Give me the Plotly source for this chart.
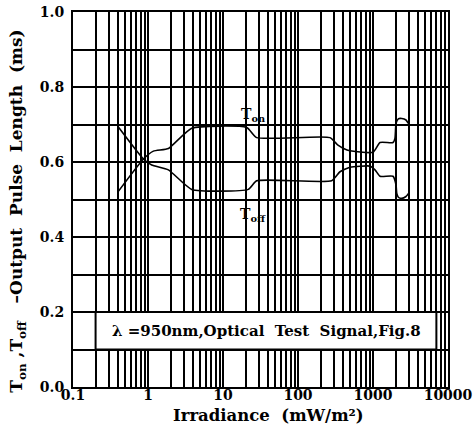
import plotly.graph_objects as go

# Data
ton_x = [0.40, 0.87, 1.18, 1.87, 3.83, 20.7, 28.1, 267, 341, 450, 1000, 1240, 1850, 1963, 2027, 2175, 2414, 2754, 2958]
ton_y = [0.521, 0.608, 0.629, 0.636, 0.690, 0.692, 0.665, 0.665, 0.645, 0.632, 0.626, 0.652, 0.652, 0.663, 0.703, 0.715, 0.716, 0.712, 0.703]

toff_x = [0.40, 0.87, 1.12, 1.87, 3.83, 21.7, 28.1, 281, 363, 494, 912, 1064, 1240, 1848, 2027, 2075, 2175, 2414, 2754, 3050]
toff_y = [0.694, 0.608, 0.592, 0.579, 0.527, 0.527, 0.550, 0.550, 0.574, 0.586, 0.589, 0.579, 0.562, 0.562, 0.539, 0.516, 0.506, 0.503, 0.508, 0.519]

x_ticks = [0.1, 1, 10, 100, 1000, 10000]
x_tick_labels = ["0.1", "1", "10", "100", "1000", "10000"]
y_ticks = [0.0, 0.2, 0.4, 0.6, 0.8, 1.0]
y_tick_labels = ["0.0", "0.2", "0.4", "0.6", "0.8", "1.0"]
minor_mults = [2, 3, 4, 5, 6, 7, 8, 9]

x_title = "Irradiance  (mW/m\u00b2)"
y_title = "T<sub>on</sub> ,T<sub>off</sub>   \u2013Output  Pulse  Length  (ms)"
note_text = "\u03bb =950nm,Optical  Test  Signal,Fig.8"
note_x = [0.2, 7000]
note_y = [0.1, 0.2]

FONT = "DejaVu Serif"

x_minor = [m * d for d in x_ticks[:-1] for m in minor_mults]

fig = go.Figure()
fig.add_trace(go.Scatter(x=ton_x, y=ton_y, mode="lines",
                         line=dict(color="black", width=1.6, shape="spline", smoothing=0.5),
                         showlegend=False, hoverinfo="skip"))
fig.add_trace(go.Scatter(x=toff_x, y=toff_y, mode="lines",
                         line=dict(color="black", width=1.6, shape="spline", smoothing=0.5),
                         showlegend=False, hoverinfo="skip"))

fig.add_shape(type="rect", xref="x", yref="y",
              x0=note_x[0], x1=note_x[1], y0=note_y[0], y1=note_y[1],
              line=dict(color="black", width=2), fillcolor="white", layer="above")
# annotation x on a log axis is given in log10 units
fig.add_annotation(x=1.58, xref="x", y=0.15, yref="y",
                   text=note_text, showarrow=False,
                   font=dict(family=FONT, size=15, color="black", weight="bold"))

fig.add_annotation(x=1.4, y=0.725, xref="x", yref="y", text="T<sub>on</sub>",
                   showarrow=False, font=dict(family=FONT, size=14, color="black", weight="bold"))
fig.add_annotation(x=1.4, y=0.46, xref="x", yref="y", text="T<sub>off</sub>",
                   showarrow=False, font=dict(family=FONT, size=14, color="black", weight="bold"))

# axis titles as annotations for precise placement
fig.add_annotation(x=0.52, y=-0.077, xref="paper", yref="paper", text=x_title,
                   showarrow=False, xanchor="center", yanchor="middle",
                   font=dict(family=FONT, size=16.5, color="black", weight="bold"))
fig.add_annotation(x=-0.147, y=0.47, xref="paper", yref="paper", text=y_title,
                   showarrow=False, xanchor="center", yanchor="middle", textangle=-90,
                   font=dict(family=FONT, size=17, color="black", weight="bold"))

fig.update_xaxes(type="log", range=[-1, 4], automargin=False,
                 tickvals=x_ticks, ticktext=x_tick_labels,
                 showgrid=True, gridcolor="black", gridwidth=1.5,
                 minor=dict(tickvals=x_minor, showgrid=True, gridcolor="black", gridwidth=1.5, ticks=""),
                 showline=True, linecolor="black", linewidth=2, mirror=True,
                 ticks="", ticklabelstandoff=-6, ticklabeloverflow="allow",
                 tickfont=dict(family=FONT, size=14, color="black", weight="bold"),
                 zeroline=False)
fig.update_yaxes(range=[0, 1], automargin=False,
                 tickvals=y_ticks, ticktext=y_tick_labels,
                 showgrid=True, gridcolor="black", gridwidth=1.5,
                 minor=dict(dtick=0.1, showgrid=True, gridcolor="black", gridwidth=1.5, ticks=""),
                 showline=True, linecolor="black", linewidth=2, mirror=True,
                 ticks="", ticklabelstandoff=4, ticklabeloverflow="allow",
                 tickfont=dict(family=FONT, size=14, color="black", weight="bold"),
                 zeroline=False)

fig.update_layout(width=474, height=443,
                  margin=dict(l=73, r=26, t=12, b=56),
                  plot_bgcolor="white", paper_bgcolor="white",
                  font=dict(family=FONT, color="black"))

fig.write_html("out.html", config={"displayModeBar": False},
               post_script="document.body.style.margin='0';")
